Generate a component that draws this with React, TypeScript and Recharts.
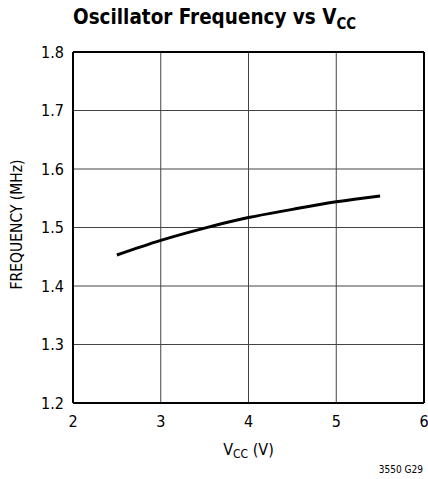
import React from 'react';
import {
  LineChart,
  Line,
  XAxis,
  YAxis,
  CartesianGrid,
  ReferenceLine,
} from 'recharts';

// supply voltage (V) and oscillator frequency (MHz)
const vcc = [2.5, 3, 3.5, 4, 4.5, 5, 5.5];
const frequency = [1.453, 1.478, 1.499, 1.517, 1.531, 1.544, 1.554];

const xTicks = [2, 3, 4, 5, 6];
const yTicks = [1.2, 1.3, 1.4, 1.5, 1.6, 1.7, 1.8];

const data = vcc.map((v, i) => ({ vcc: v, freq: frequency[i] }));

const FONT = '"DejaVu Sans Condensed", "Liberation Sans", sans-serif';

const XLabel = (props: any) => {
  const { viewBox } = props;
  const cx = viewBox.x + viewBox.width / 2;
  return (
    <text x={cx} y={viewBox.y + 52} textAnchor="middle" fontFamily={FONT} fontSize={16} fill="#000">
      V<tspan fontSize={12} dy={3}>CC</tspan>
      <tspan dy={-3}> (V)</tspan>
    </text>
  );
};

const YLabel = (props: any) => {
  const { viewBox } = props;
  const cy = viewBox.y + viewBox.height / 2 - 3;
  return (
    <text
      x={22}
      y={cy}
      textAnchor="middle"
      fontFamily={FONT}
      fontSize={15.5}
      fill="#000"
      transform={`rotate(-90, 22, ${cy})`}
    >
      FREQUENCY (MHz)
    </text>
  );
};

const App = () => {
  return (
    <div style={{ position: 'absolute', left: 0, top: 0, width: 428, height: 479, background: '#fff' }}>
      <div
        style={{
          position: 'absolute',
          left: 73,
          top: 4,
          fontFamily: FONT,
          fontWeight: 'bold',
          fontSize: 22,
          color: '#000',
          whiteSpace: 'nowrap',
          lineHeight: '26px',
          transform: 'scaleX(0.93)',
          transformOrigin: 'left top',
        }}
      >
        Oscillator Frequency vs V<sub style={{ fontSize: 16, verticalAlign: '-5px' }}>CC</sub>
      </div>
      <LineChart
        width={428}
        height={479}
        data={data}
        margin={{ top: 52, right: 4, left: 0, bottom: 0 }}
      >
        <CartesianGrid stroke="#444" strokeWidth={1} />
        <XAxis
          dataKey="vcc"
          type="number"
          domain={[2, 6]}
          ticks={xTicks}
          allowDataOverflow
          height={76}
          tickLine={false}
          axisLine={{ stroke: '#000', strokeWidth: 2 }}
          tickMargin={7}
          tick={{ fill: '#000', fontSize: 16, fontFamily: FONT }}
          label={<XLabel />}
        />
        <YAxis
          type="number"
          domain={[1.2, 1.8]}
          ticks={yTicks}
          allowDataOverflow
          width={73}
          tickLine={false}
          axisLine={{ stroke: '#000', strokeWidth: 2 }}
          tickMargin={3}
          tickFormatter={(v: number) => v.toFixed(1)}
          tick={{ fill: '#000', fontSize: 16, fontFamily: FONT }}
          label={<YLabel />}
        />
        <ReferenceLine y={1.8} stroke="#000" strokeWidth={2} />
        <ReferenceLine x={6} stroke="#000" strokeWidth={2} />
        <Line
          type="monotone"
          dataKey="freq"
          stroke="#000"
          strokeWidth={3}
          dot={false}
          isAnimationActive={false}
        />
      </LineChart>
      <div
        style={{
          position: 'absolute',
          right: 5,
          top: 464,
          fontFamily: FONT,
          fontSize: 10,
          color: '#000',
          whiteSpace: 'nowrap',
        }}
      >
        3550 G29
      </div>
    </div>
  );
};

export default App;
